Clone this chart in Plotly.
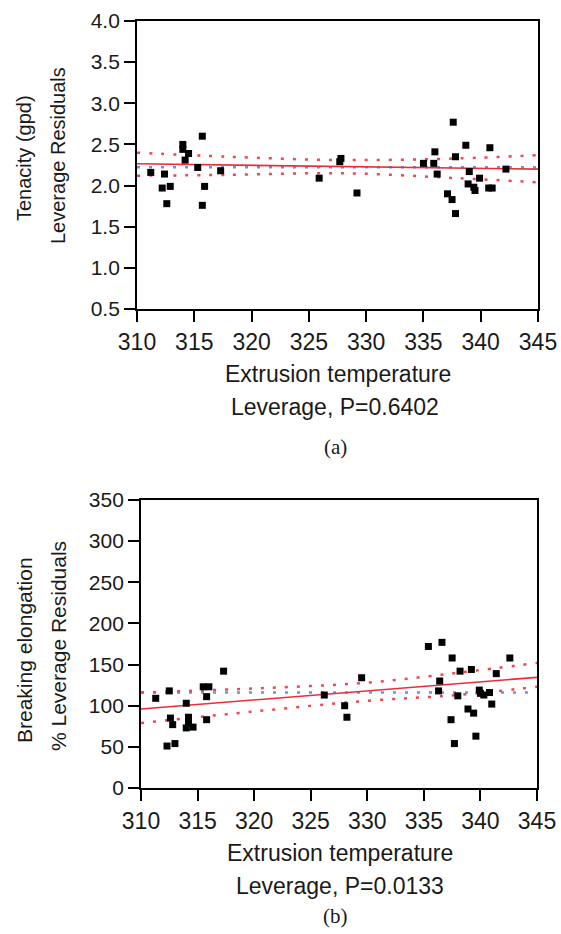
import plotly.graph_objects as go

# ---------------- data: panel (a) ----------------
temp_a = [311.2, 312.4, 312.2, 312.9, 312.6, 314.0, 314.0, 314.5, 314.2, 315.7,
          315.3, 315.9, 315.7, 317.3, 325.9, 327.8, 327.7, 329.2,
          337.6, 336.0, 335.0, 335.9, 336.2, 337.8, 338.7, 340.8, 339.0, 339.9,
          338.9, 339.4, 339.5, 340.7, 341.0, 342.2, 337.1, 337.5, 337.8]
tenacity = [2.16, 2.14, 1.97, 1.99, 1.78, 2.50, 2.44, 2.39, 2.31, 2.60,
            2.22, 1.99, 1.76, 2.18, 2.09, 2.33, 2.29, 1.91,
            2.77, 2.41, 2.27, 2.27, 2.14, 2.35, 2.49, 2.46, 2.17, 2.09,
            2.02, 1.98, 1.94, 1.97, 1.97, 2.20, 1.90, 1.83, 1.66]
fit_x_a = [310, 345]
fit_y_a = [2.265, 2.20]
band_x_a = [310, 318, 328, 338, 345]
band_up_a = [2.40, 2.35, 2.31, 2.33, 2.37]
band_lo_a = [2.12, 2.13, 2.15, 2.09, 2.04]
mean_a = 2.222

# ---------------- data: panel (b) ----------------
temp_b = [311.3, 312.5, 312.6, 312.8, 312.3, 313.0, 314.0, 314.2, 314.2, 314.0,
          314.6, 315.5, 316.0, 315.8, 315.8, 317.3, 326.2, 328.0, 328.2, 329.5,
          335.4, 336.6, 337.5, 338.2, 339.2, 342.6, 341.4, 336.4, 336.3, 338.0,
          339.9, 340.0, 340.3, 340.8, 341.0, 338.9, 339.4, 337.4, 339.6, 337.7]
elong = [109, 118, 85, 77, 51, 54, 103, 86, 79, 73,
         74, 123, 123, 111, 83, 142, 113, 100, 86, 134,
         172, 177, 158, 142, 144, 158, 139, 130, 118, 112,
         119, 115, 113, 116, 102, 96, 91, 83, 63, 54]
fit_x_b = [310, 345]
fit_y_b = [96, 134.5]
band_x_b = [310, 320, 330, 338, 345]
band_up_b = [116, 121, 128, 140, 152]
band_lo_b = [79, 93, 106, 113, 123]
mean_b = 116

x_ticks = [310, 315, 320, 325, 330, 335, 340, 345]
y_ticks_a = [0.5, 1.0, 1.5, 2.0, 2.5, 3.0, 3.5, 4.0]
y_ticks_b = [0, 50, 100, 150, 200, 250, 300, 350]

W, H = 561, 934
RED = "rgb(235,45,55)"
RED_DOT = "rgb(240,70,80)"
BLUE_DOT = "rgb(110,145,225)"
SANS = "Liberation Sans, Arial, sans-serif"
SERIF = "Liberation Serif, Times New Roman, serif"

fig = go.Figure()

def add_panel(xa, ya, xs, ys, fx, fy, bx, bu, bl, mean):
    fig.add_trace(go.Scatter(x=[fx[0], fx[-1]], y=[mean, mean], mode="lines",
                             line=dict(color=BLUE_DOT, width=2.5, dash="3px,9px"),
                             xaxis=xa, yaxis=ya, showlegend=False, hoverinfo="skip"))
    fig.add_trace(go.Scatter(x=bx, y=bu, mode="lines", line_shape="spline",
                             line=dict(color=RED_DOT, width=2.5, dash="3px,9px"),
                             xaxis=xa, yaxis=ya, showlegend=False, hoverinfo="skip"))
    fig.add_trace(go.Scatter(x=bx, y=bl, mode="lines", line_shape="spline",
                             line=dict(color=RED_DOT, width=2.5, dash="3px,9px"),
                             xaxis=xa, yaxis=ya, showlegend=False, hoverinfo="skip"))
    fig.add_trace(go.Scatter(x=fx, y=fy, mode="lines",
                             line=dict(color=RED, width=1.6),
                             xaxis=xa, yaxis=ya, showlegend=False))
    fig.add_trace(go.Scatter(x=xs, y=ys, mode="markers",
                             marker=dict(symbol="square", size=7, color="black"),
                             xaxis=xa, yaxis=ya, showlegend=False))

add_panel("x", "y", temp_a, tenacity, fit_x_a, fit_y_a, band_x_a, band_up_a, band_lo_a, mean_a)
add_panel("x2", "y2", temp_b, elong, fit_x_b, fit_y_b, band_x_b, band_up_b, band_lo_b, mean_b)

def px2x(p):
    return p / W

def py2y(p):
    return 1 - p / H

axis_common = dict(showline=True, linecolor="black", linewidth=1.8, mirror=True,
                   ticks="outside", ticklen=11, tickwidth=1.5, tickcolor="black",
                   showgrid=False, zeroline=False, automargin=False)

fig.update_layout(
    width=W, height=H,
    margin=dict(l=0, r=0, t=0, b=0, pad=0),
    paper_bgcolor="white", plot_bgcolor="white",
    xaxis=dict(domain=[px2x(137), px2x(538)], range=[310, 345], tickvals=x_ticks,
               anchor="y", tickfont=dict(family=SANS, size=23, color="#1a1a1a"), **axis_common),
    yaxis=dict(domain=[py2y(309), py2y(21)], range=[0.5, 4.0], tickvals=y_ticks_a,
               ticktext=[f"{v:.1f}" for v in y_ticks_a],
               anchor="x", tickfont=dict(family=SANS, size=21, color="#1a1a1a"), **axis_common),
    xaxis2=dict(domain=[px2x(141), px2x(537)], range=[310, 345], tickvals=x_ticks,
                anchor="y2", tickfont=dict(family=SANS, size=23, color="#1a1a1a"), **axis_common),
    yaxis2=dict(domain=[py2y(788), py2y(500)], range=[0, 350], tickvals=y_ticks_b,
                anchor="x2", tickfont=dict(family=SANS, size=21, color="#1a1a1a"), **axis_common),
)

def ann(text, xp, yp, size, family=SANS, angle=0):
    fig.add_annotation(text=text, x=px2x(xp), y=py2y(yp), xref="paper", yref="paper",
                       xanchor="center", yanchor="middle", showarrow=False, textangle=angle,
                       font=dict(family=family, size=size, color="#1a1a1a"))

# panel (a) titles
ann("Tenacity (gpd)", 24, 158, 20, angle=-90)
ann("Leverage Residuals", 58, 156, 20, angle=-90)
ann("Extrusion temperature", 338, 374, 23)
ann("Leverage, P=0.6402", 335, 407, 23)
ann("(a)", 335, 447, 21, family=SERIF)

# panel (b) titles
ann("Breaking elongation", 24, 650, 21, angle=-90)
ann("% Leverage Residuals", 58, 646, 21, angle=-90)
ann("Extrusion temperature", 340, 853, 23)
ann("Leverage, P=0.0133", 340, 886, 23)
ann("(b)", 335, 916, 21, family=SERIF)

fig.write_html("out.html")
